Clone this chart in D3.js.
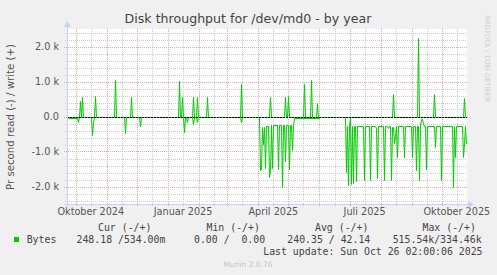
<!DOCTYPE html>
<html>
<head>
<meta charset="utf-8">
<script src="https://cdn.jsdelivr.net/npm/d3@7"></script>
<style>
  html, body { margin: 0; padding: 0; background: #f0f0f0; }
  svg { display: block; }
  text { font-family: "DejaVu Sans", sans-serif; }
  .mono { font-family: "DejaVu Sans Mono", monospace; white-space: pre; }
</style>
</head>
<body>
<div id="chart"></div>
<script>
// Munin-diagram: Disk throughput /dev/md0, år-visning

// lese (vises negativt) - [dato, bytes/s], verdien holdes til neste punkt
const readPoints = [
  ['2024-09-23', 40], ['2024-10-03', 150], ['2024-10-04', 0],
  ['2024-10-17', 520], ['2024-10-18', 150], ['2024-10-19', 0],
  ['2024-11-19', 470], ['2024-11-20', 0],
  ['2024-12-04', 280], ['2024-12-05', 0],
  ['2025-01-17', 430], ['2025-01-18', 0],
  ['2025-01-20', 150], ['2025-01-21', 0],
  ['2025-01-26', 220], ['2025-01-27', 0],
  ['2025-01-30', 150], ['2025-01-31', 0],
  ['2025-03-15', 150], ['2025-03-16', 0],
  ['2025-04-03', 1540], ['2025-04-04', 1500], ['2025-04-05', 300], ['2025-04-06', 780],
  ['2025-04-07', 300], ['2025-04-08', 1460], ['2025-04-09', 260],
  ['2025-04-12', 1730], ['2025-04-13', 1530], ['2025-04-14', 250], ['2025-04-15', 1460],
  ['2025-04-16', 250], ['2025-04-21', 1510], ['2025-04-22', 250],
  ['2025-04-25', 2020], ['2025-04-26', 250], ['2025-04-28', 1260], ['2025-04-29', 250],
  ['2025-05-02', 1510], ['2025-05-03', 250], ['2025-05-05', 970], ['2025-05-06', 250],
  ['2025-05-07', 30], ['2025-06-02', 0],
  ['2025-06-27', 1590], ['2025-06-28', 260], ['2025-06-29', 1970], ['2025-06-30', 260],
  ['2025-07-01', 0], ['2025-07-02', 1940], ['2025-07-03', 260], ['2025-07-04', 1890],
  ['2025-07-05', 260], ['2025-07-07', 1830], ['2025-07-08', 260],
  ['2025-07-15', 1800], ['2025-07-16', 260], ['2025-07-21', 1800], ['2025-07-22', 270],
  ['2025-07-27', 340], ['2025-07-28', 1770], ['2025-07-29', 260],
  ['2025-08-04', 1800], ['2025-08-05', 260], ['2025-08-08', 340], ['2025-08-09', 260],
  ['2025-08-11', 1800], ['2025-08-12', 300], ['2025-08-14', 770], ['2025-08-15', 580],
  ['2025-08-16', 260], ['2025-08-17', 1160], ['2025-08-18', 260],
  ['2025-08-24', 1160], ['2025-08-25', 260], ['2025-09-01', 1160], ['2025-09-02', 260],
  ['2025-09-05', 1540], ['2025-09-06', 260], ['2025-09-08', 1800], ['2025-09-09', 260],
  ['2025-09-10', 60], ['2025-09-12', 190], ['2025-09-13', 260],
  ['2025-09-15', 1510], ['2025-09-16', 260], ['2025-09-24', 870], ['2025-09-25', 260],
  ['2025-09-30', 1800], ['2025-10-01', 280], ['2025-10-12', 2020], ['2025-10-13', 280],
  ['2025-10-14', 1160], ['2025-10-15', 260], ['2025-10-22', 1160], ['2025-10-23', 770],
  ['2025-10-24', 260], ['2025-10-25', 770]
];

// skriving (vises positivt)
const writePoints = [
  ['2024-09-22', 0],
  ['2024-10-05', 440], ['2024-10-06', 0], ['2024-10-07', 550], ['2024-10-08', 0],
  ['2024-10-20', 600], ['2024-10-21', 0],
  ['2024-11-09', 1030], ['2024-11-10', 0],
  ['2024-11-25', 570], ['2024-11-26', 0],
  ['2025-01-12', 1010], ['2025-01-13', 0], ['2025-01-15', 570], ['2025-01-16', 0],
  ['2025-01-26', 550], ['2025-01-27', 0], ['2025-01-30', 550], ['2025-01-31', 0],
  ['2025-02-09', 570], ['2025-02-10', 0],
  ['2025-03-15', 930], ['2025-03-16', 0],
  ['2025-04-13', 570], ['2025-04-14', 0],
  ['2025-04-28', 570], ['2025-04-29', 0], ['2025-05-01', 600], ['2025-05-02', 0],
  ['2025-05-17', 930], ['2025-05-18', 0], ['2025-05-24', 1030], ['2025-05-25', 0],
  ['2025-05-30', 400], ['2025-05-31', 0],
  ['2025-08-13', 650], ['2025-08-14', 0],
  ['2025-09-07', 2250], ['2025-09-08', 0],
  ['2025-09-23', 650], ['2025-09-24', 0],
  ['2025-10-23', 530], ['2025-10-24', 0]
];

const yTicks = [-2000, -1000, 0, 1000, 2000];
const yTickLabels = ['-2.0 k', '-1.0 k', '0.0', '1.0 k', '2.0 k'];
const yMinorTicks = [-2400, -2200, -1800, -1600, -1400, -1200, -800, -600, -400, -200,
  200, 400, 600, 800, 1200, 1400, 1600, 1800, 2200, 2400];
const xLabelMonths = ['2024-10', '2025-01', '2025-04', '2025-07', '2025-10'];
const xLabels = ['Oktober 2024', 'Januar 2025', 'April 2025', 'Juli 2025', 'Oktober 2025'];

const legendHeaders = ['Cur (-/+)', 'Min (-/+)', 'Avg (-/+)', 'Max (-/+)'];
const legendValues = ['248.18 /534.00m', '0.00 /  0.00', '240.35 / 42.14', '515.54k/334.46k'];
const seriesName = 'Bytes';
const lastUpdate = 'Last update: Sun Oct 26 02:00:06 2025';

const W = 497, H = 275;
const plot = { left: 67, right: 467, top: 29, bottom: 204 };
const green = '#00cc00';
const majorColor = '#eba5a5';
const minorColor = '#cccccc';
const axisColor = '#c9cff5';

const parseDay = d3.timeParse('%Y-%m-%d');
const parseMonth = d3.timeParse('%Y-%m');
const start = new Date(2024, 8, 22, 6);
const end = new Date(2025, 9, 26, 2);

const x = d3.scaleTime().domain([start, end]).range([plot.left, plot.right]);
const y = d3.scaleLinear().domain([-2500, 2500]).range([plot.bottom, plot.top]);
const px = v => Math.round(v) + 0.5;

const svg = d3.select('#chart').append('svg')
  .attr('width', W)
  .attr('height', H);

svg.append('rect')
  .attr('width', W).attr('height', H)
  .attr('fill', '#f0f0f0');

svg.append('rect')
  .attr('x', plot.left).attr('y', plot.top)
  .attr('width', plot.right - plot.left)
  .attr('height', plot.bottom - plot.top)
  .attr('fill', '#ffffff');

// tittel
svg.append('text')
  .attr('x', 248).attr('y', 23)
  .attr('text-anchor', 'middle')
  .style('font-size', '12.6px')
  .attr('fill', '#444')
  .text('Disk throughput for /dev/md0 - by year');

// rrdtool-vannmerke
svg.append('text')
  .attr('transform', 'translate(485,15) rotate(90)')
  .style('font-size', '7px')
  .attr('textLength', 87)
  .attr('fill', '#cfcfcf')
  .text('RRDTOOL / TOBI OETIKER');

// y-akse tittel
svg.append('text')
  .attr('transform', 'translate(14,117) rotate(-90)')
  .attr('text-anchor', 'middle')
  .style('font-size', '10.2px')
  .attr('fill', '#555')
  .text('Pr second read (-) / write (+)');

const grid = svg.append('g').attr('stroke-width', 1).attr('stroke-dasharray', '1,1');

// mindre rutenett
grid.selectAll('.ymin')
  .data(yMinorTicks)
  .enter().append('line')
  .attr('x1', plot.left - 2).attr('x2', plot.right)
  .attr('y1', d => px(y(d))).attr('y2', d => px(y(d)))
  .attr('stroke', minorColor);

const midMonths = d3.timeMonth.range(d3.timeMonth.floor(start), end)
  .map(d => new Date(d.getFullYear(), d.getMonth(), 16))
  .filter(d => d > start && d < end);

grid.selectAll('.xmin')
  .data(midMonths)
  .enter().append('line')
  .attr('x1', d => px(x(d))).attr('x2', d => px(x(d)))
  .attr('y1', plot.top).attr('y2', plot.bottom + 2)
  .attr('stroke', minorColor);

// hovedrutenett
grid.selectAll('.ymaj')
  .data(yTicks)
  .enter().append('line')
  .attr('x1', plot.left - 3).attr('x2', plot.right)
  .attr('y1', d => px(y(d))).attr('y2', d => px(y(d)))
  .attr('stroke', majorColor);

const months = d3.timeMonth.range(start, end);
grid.selectAll('.xmaj')
  .data(months)
  .enter().append('line')
  .attr('x1', d => px(x(d))).attr('x2', d => px(x(d)))
  .attr('y1', plot.top).attr('y2', plot.bottom + 3)
  .attr('stroke', majorColor);

// aksetekster
svg.append('g').selectAll('text')
  .data(yTicks)
  .enter().append('text')
  .attr('x', 59)
  .attr('y', d => y(d) + 3.5)
  .attr('text-anchor', 'end')
  .style('font-size', '9.7px')
  .attr('fill', '#555')
  .text((d, i) => yTickLabels[i]);

svg.append('g').selectAll('text')
  .data(xLabelMonths)
  .enter().append('text')
  .attr('x', d => {
    const m = parseMonth(d);
    return x(new Date(m.getFullYear(), m.getMonth(), 16));
  })
  .attr('y', 215)
  .attr('text-anchor', 'middle')
  .style('font-size', '9.7px')
  .attr('fill', '#555')
  .text((d, i) => xLabels[i]);

// dataserier: verdien holdes til dagen før neste punkt, så linje som i rrdtool
function toSeries(points, sign) {
  const s = [];
  points.forEach((p, i) => {
    const date = parseDay(p[0]);
    if (i > 0) {
      const hold = d3.timeDay.offset(date, -1);
      if (hold > s[s.length - 1].date) s.push({ date: hold, value: s[s.length - 1].value });
    }
    s.push({ date: date, value: sign * p[1] });
  });
  s.push({ date: end, value: s[s.length - 1].value });
  return s;
}

const line = d3.line()
  .x(d => px(x(d.date)))
  .y(d => px(y(d.value)));

svg.append('path')
  .datum(toSeries(readPoints, -1))
  .attr('fill', 'none')
  .attr('stroke', green)
  .attr('stroke-width', 1)
  .attr('d', line);

svg.append('path')
  .datum(toSeries(writePoints, 1))
  .attr('fill', 'none')
  .attr('stroke', green)
  .attr('stroke-width', 1)
  .attr('d', line);

// nullinje
svg.append('line')
  .attr('x1', plot.left).attr('x2', plot.right)
  .attr('y1', px(y(0))).attr('y2', px(y(0)))
  .attr('stroke', '#000')
  .attr('stroke-width', 1)
  .attr('stroke-dasharray', '2,1');

// akser med piler
svg.append('line')
  .attr('x1', plot.left + 0.5).attr('x2', plot.left + 0.5)
  .attr('y1', plot.top - 3).attr('y2', plot.bottom + 3)
  .attr('stroke', axisColor);
svg.append('line')
  .attr('x1', plot.left - 3).attr('x2', plot.right + 3)
  .attr('y1', plot.bottom + 0.5).attr('y2', plot.bottom + 0.5)
  .attr('stroke', axisColor);
svg.append('path')
  .attr('d', `M${plot.left - 3},${plot.top - 2}L${plot.left + 0.5},${plot.top - 8}L${plot.left + 4},${plot.top - 2}Z`)
  .attr('fill', axisColor);
svg.append('path')
  .attr('d', `M${plot.right + 1},${plot.bottom - 3}L${plot.right + 7},${plot.bottom + 0.5}L${plot.right + 1},${plot.bottom + 4}Z`)
  .attr('fill', axisColor);

// legende
const headX = [98, 206.5, 315, 422.5];
const valX = [76.5, 194, 287.3, 392.7];

svg.append('g').selectAll('text')
  .data(legendHeaders)
  .enter().append('text')
  .attr('class', 'mono')
  .attr('x', (d, i) => headX[i])
  .attr('y', 231)
  .style('font-size', '9.85px')
  .attr('fill', '#444')
  .text(d => d);

svg.append('rect')
  .attr('x', 14).attr('y', 237)
  .attr('width', 5).attr('height', 5)
  .attr('fill', green);

svg.append('text')
  .attr('class', 'mono')
  .attr('x', 26.7).attr('y', 243)
  .style('font-size', '9.85px')
  .attr('fill', '#444')
  .text(seriesName);

svg.append('g').selectAll('text')
  .data(legendValues)
  .enter().append('text')
  .attr('class', 'mono')
  .attr('x', (d, i) => valX[i])
  .attr('y', 243)
  .style('font-size', '9.85px')
  .attr('fill', '#444')
  .text(d => d);

svg.append('text')
  .attr('class', 'mono')
  .attr('x', 482.5).attr('y', 255)
  .attr('text-anchor', 'end')
  .style('font-size', '9.85px')
  .attr('fill', '#444')
  .text(lastUpdate);

svg.append('text')
  .attr('x', 248).attr('y', 267)
  .attr('text-anchor', 'middle')
  .style('font-size', '7.5px')
  .attr('fill', '#c4c4c4')
  .text('Munin 2.0.76');
</script>
</body>
</html>
